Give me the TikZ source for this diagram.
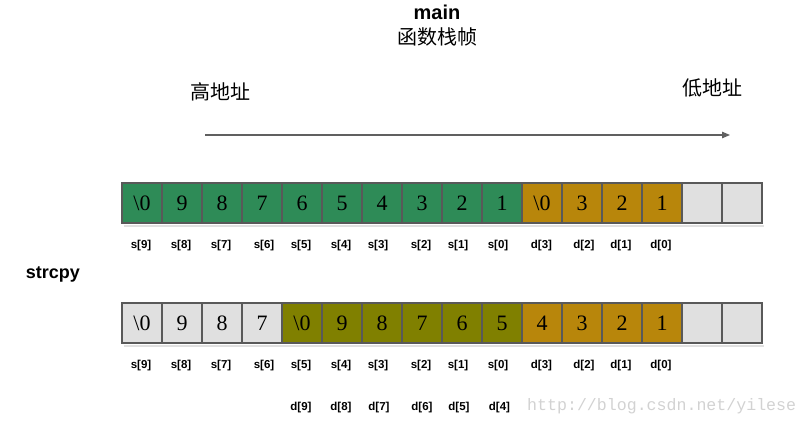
\documentclass[tikz,border=0pt]{standalone}
\usepackage{fontspec}
\setmainfont{Liberation Serif}
\setsansfont{Liberation Sans}
\setmonofont{Liberation Mono}
\newfontfamily\cjk{Noto Sans CJK SC}
\usetikzlibrary{arrows.meta}
\definecolor{cgreen}{RGB}{46,139,87}
\definecolor{cgold}{RGB}{184,134,11}
\definecolor{colive}{RGB}{128,128,0}
\definecolor{cgrey}{RGB}{224,224,224}
\definecolor{cborder}{RGB}{89,89,89}
\definecolor{carrow}{RGB}{96,96,96}
\definecolor{cwm}{RGB}{210,210,210}
\tikzset{
  cell/.style={draw=cborder, line width=1.1pt, minimum width=40pt, minimum height=40pt,
    inner sep=0pt, outer sep=0pt, text=black, font=\fontsize{22}{24}\selectfont},
  idx/.style={inner sep=0pt, text=black, font=\sffamily\bfseries\fontsize{11.5}{13}\selectfont},
  cjktext/.style={inner sep=0pt, font=\cjk\fontsize{20}{24}\selectfont},
  rowshadow/.style={fill=black!12},
}
\begin{document}
\begin{tikzpicture}[x=1pt,y=-1pt]
\path[use as bounding box] (0,0) rectangle (808,426);
% titles
\node[inner sep=0pt, font=\sffamily\bfseries\fontsize{20}{24}\selectfont] (main) at (437,12) {main};
\node[cjktext] (frame) at (437,37) {函数栈帧};
\node[cjktext] (high) at (220,92) {高地址};
\node[cjktext] (low) at (712,88) {低地址};
\coordinate (arrS) at (205,135);
\coordinate (arrE) at (730,135);
\draw[carrow, line width=1.2pt, -{Triangle[length=8pt,width=6.5pt]}] (arrS) -- (arrE);
\node[inner sep=0pt, font=\sffamily\bfseries\fontsize{18}{22}\selectfont] (strcpy) at (53,274) {strcpy};
% shadows
\fill[rowshadow] (124,225) rectangle (764,226.5);
\fill[rowshadow] (124,345) rectangle (764,346.5);
% row 1
\foreach \i/\t/\c in {0/\textbackslash0/cgreen,1/9/cgreen,2/8/cgreen,3/7/cgreen,4/6/cgreen,5/5/cgreen,
  6/4/cgreen,7/3/cgreen,8/2/cgreen,9/1/cgreen,10/\textbackslash0/cgold,11/3/cgold,12/2/cgold,13/1/cgold,
  14/{}/cgrey,15/{}/cgrey}
  \node[cell, fill=\c] (a\i) at ({142+40*\i},203) {\t};
% row 2
\foreach \i/\t/\c in {0/\textbackslash0/cgrey,1/9/cgrey,2/8/cgrey,3/7/cgrey,4/\textbackslash0/colive,5/9/colive,
  6/8/colive,7/7/colive,8/6/colive,9/5/colive,10/4/cgold,11/3/cgold,12/2/cgold,13/1/cgold,
  14/{}/cgrey,15/{}/cgrey}
  \node[cell, fill=\c] (b\i) at ({142+40*\i},323) {\t};
% labels
\foreach \n/\x/\t in {0/141/s[9],1/181/s[8],2/221/s[7],3/264/s[6],4/301/s[5],5/341/s[4],6/378/s[3],
  7/421/s[2],8/458/s[1],9/498/s[0],10/541.5/d[3],11/584/d[2],12/621/d[1],13/661/d[0]}
{
  \node[idx] (la\n) at (\x,246) {\t};
  \node[idx] (lb\n) at (\x,366) {\t};
}
\foreach \n/\x/\t in {4/301/d[9],5/341/d[8],6/379/d[7],7/422/d[6],8/459/d[5],9/499.5/d[4]}
  \node[idx] (lc\n) at (\x,408) {\t};
% watermark
\node[inner sep=0pt, anchor=west, text=cwm, font=\ttfamily\fontsize{16.6}{20}\selectfont] (wm) at (527,406) {http://blog.csdn.net/yilese};
\end{tikzpicture}
\end{document}
